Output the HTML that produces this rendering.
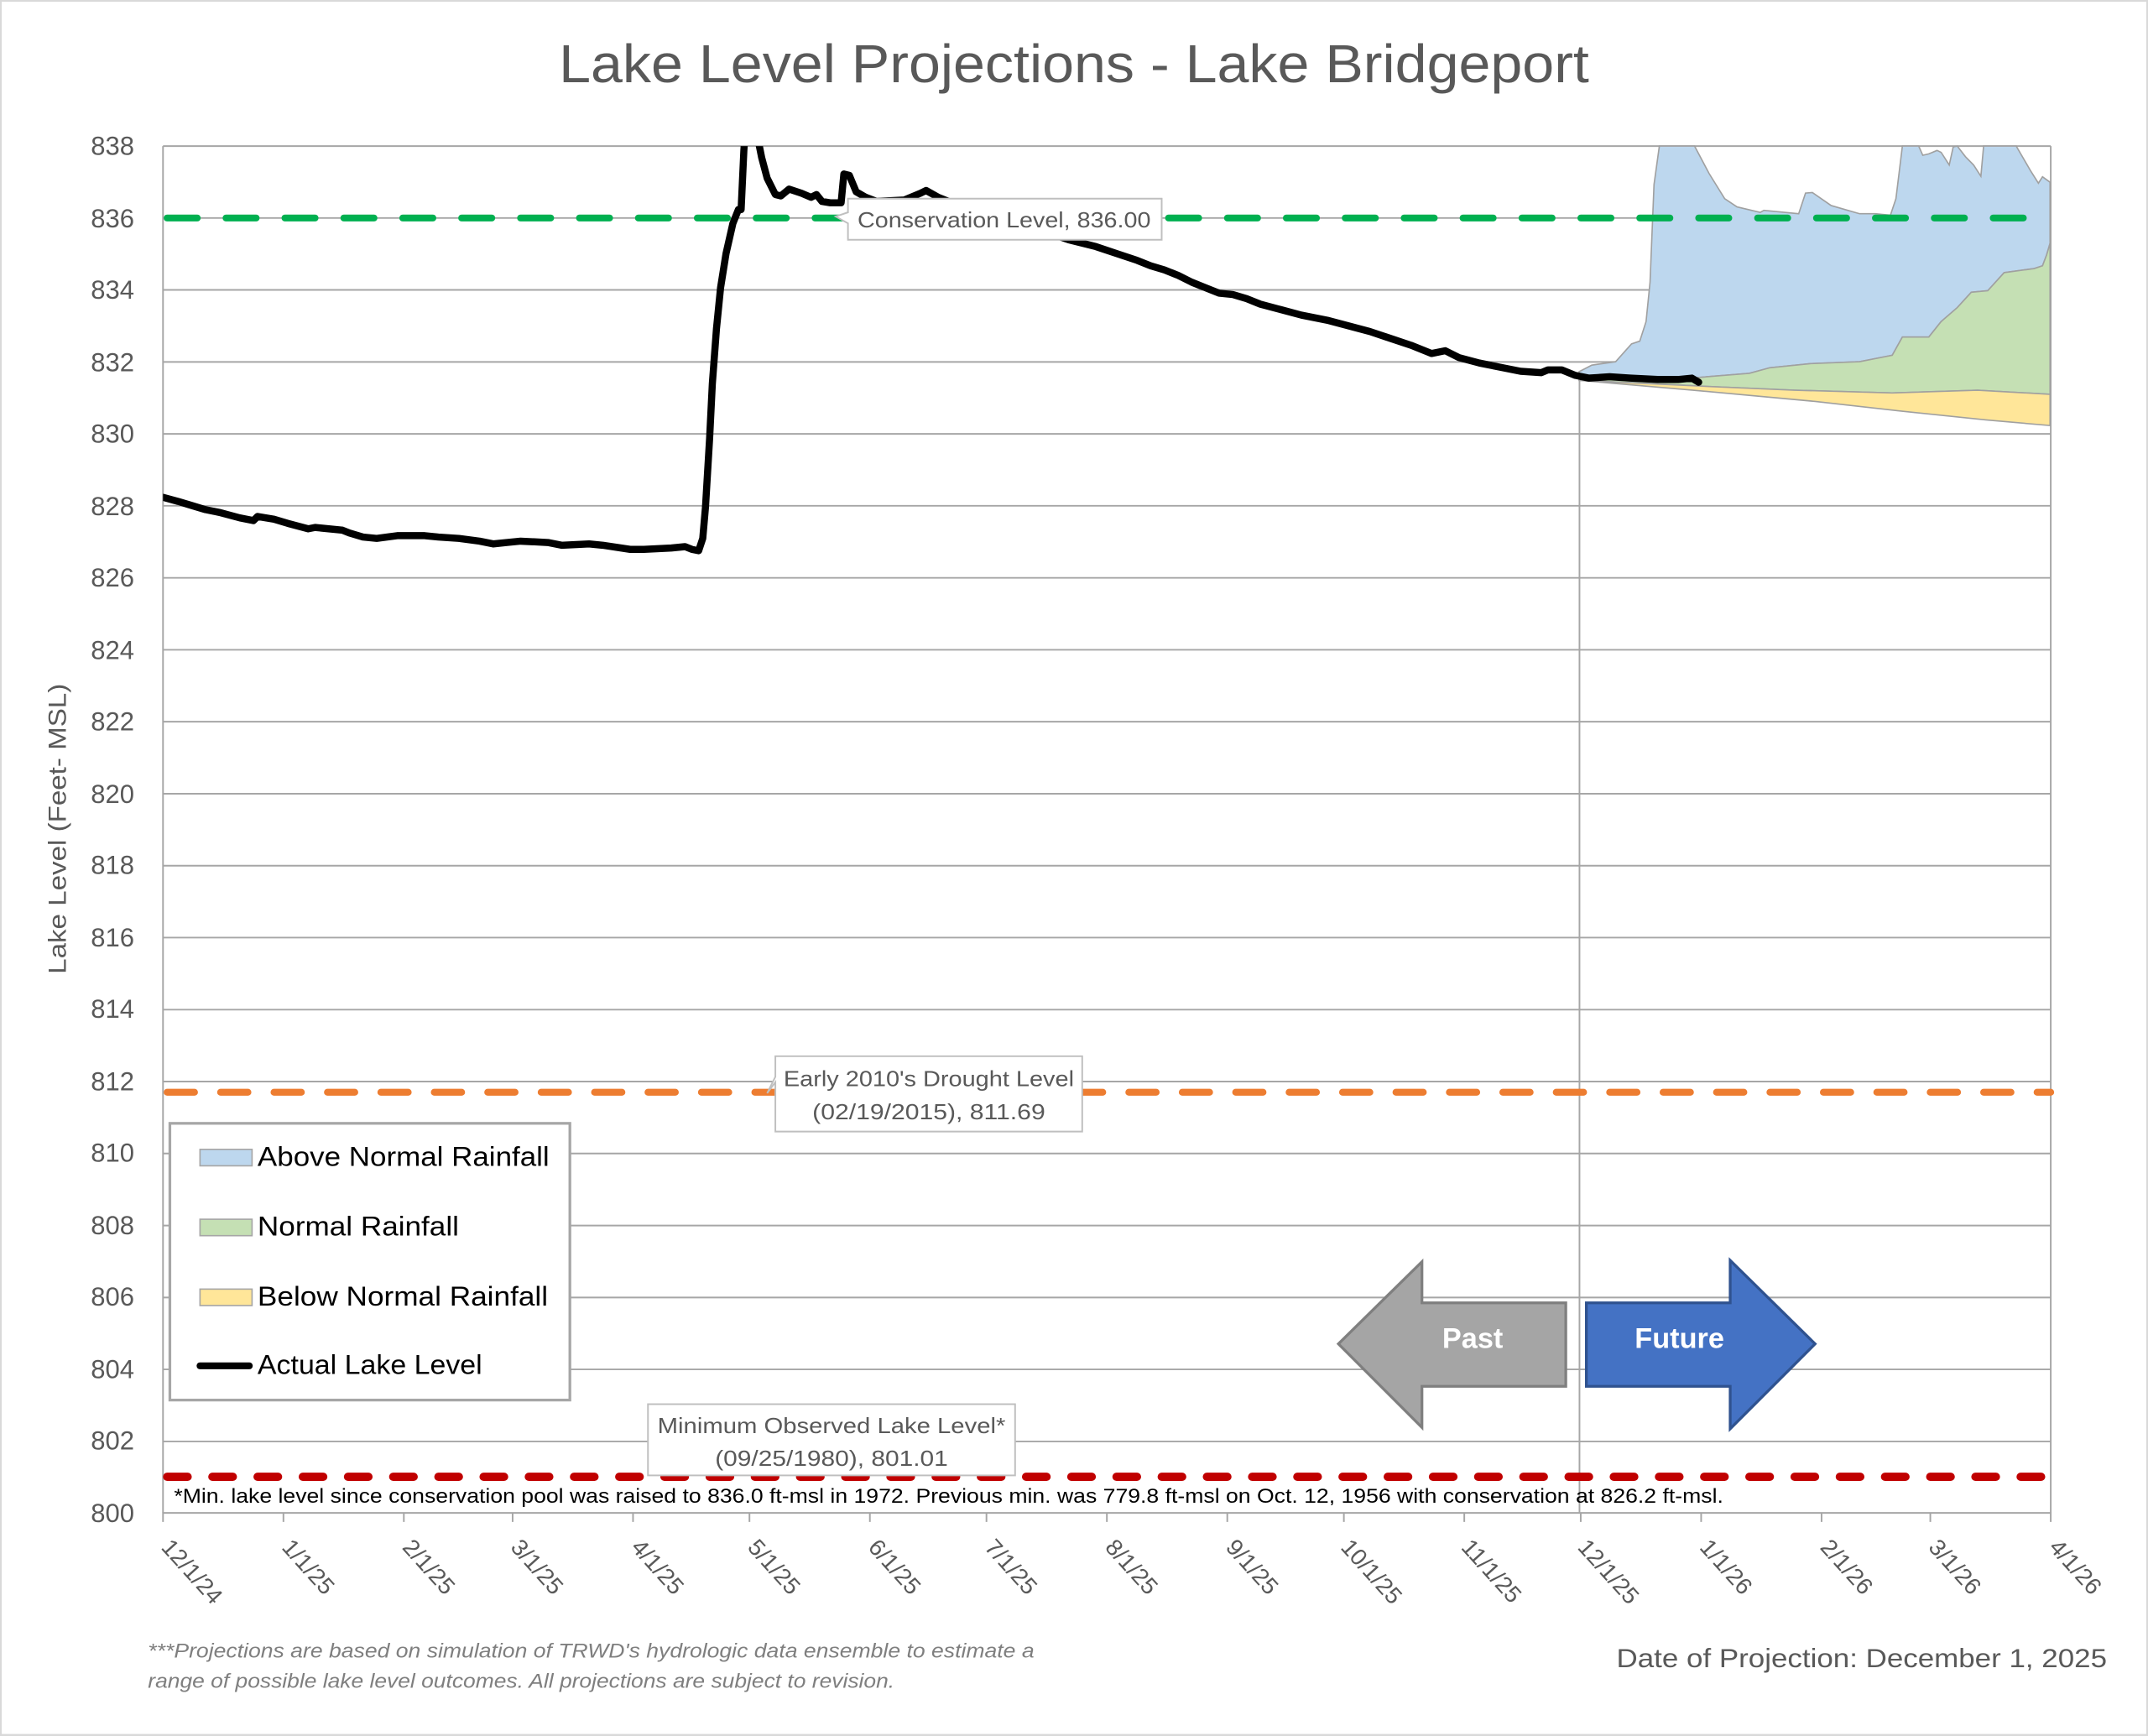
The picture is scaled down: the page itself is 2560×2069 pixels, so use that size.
<!DOCTYPE html>
<html><head><meta charset="utf-8"><style>html,body{margin:0;padding:0;background:#fff}svg{display:block}</style></head><body>
<svg width="2560" height="2069" viewBox="0 0 1568 1267.2" xmlns="http://www.w3.org/2000/svg" font-family="Liberation Sans, sans-serif">
<rect x="0.5" y="0.5" width="1567" height="1266" fill="#fff" stroke="#d9d9d9" stroke-width="1.5"/>
<text x="784" y="60" text-anchor="middle" font-size="39" fill="#595959" textLength="752" lengthAdjust="spacingAndGlyphs">Lake Level Projections - Lake Bridgeport</text>
<g stroke="#a6a6a6" stroke-width="1.2">
<line x1="119" x2="1497" y1="106.6" y2="106.6"/><line x1="119" x2="1497" y1="159.1" y2="159.1"/><line x1="119" x2="1497" y1="211.6" y2="211.6"/><line x1="119" x2="1497" y1="264.2" y2="264.2"/><line x1="119" x2="1497" y1="316.7" y2="316.7"/><line x1="119" x2="1497" y1="369.2" y2="369.2"/><line x1="119" x2="1497" y1="421.8" y2="421.8"/><line x1="119" x2="1497" y1="474.3" y2="474.3"/><line x1="119" x2="1497" y1="526.8" y2="526.8"/><line x1="119" x2="1497" y1="579.4" y2="579.4"/><line x1="119" x2="1497" y1="631.9" y2="631.9"/><line x1="119" x2="1497" y1="684.4" y2="684.4"/><line x1="119" x2="1497" y1="737.0" y2="737.0"/><line x1="119" x2="1497" y1="789.5" y2="789.5"/><line x1="119" x2="1497" y1="842.0" y2="842.0"/><line x1="119" x2="1497" y1="894.6" y2="894.6"/><line x1="119" x2="1497" y1="947.1" y2="947.1"/><line x1="119" x2="1497" y1="999.6" y2="999.6"/><line x1="119" x2="1497" y1="1052.2" y2="1052.2"/><line x1="119" x2="1497" y1="1104.4" y2="1104.4"/>
<line x1="119" x2="119" y1="106.6" y2="1104.4"/><line x1="1497" x2="1497" y1="106.6" y2="1104.4"/>
<line x1="1153" x2="1153" y1="272" y2="1104.4"/>
<path d="M119 1104v7M206.9 1104v7M294.8 1104v7M374.2 1104v7M462.1 1104v7M547.1 1104v7M635 1104v7M720.1 1104v7M808 1104v7M895.9 1104v7M981 1104v7M1068.9 1104v7M1153.9 1104v7M1241.8 1104v7M1329.7 1104v7M1409.1 1104v7M1497 1104v7"/>
</g>
<g fill="#595959" font-size="19" text-anchor="end">
<text x="98" y="113">838</text><text x="98" y="166">836</text><text x="98" y="218">834</text><text x="98" y="271">832</text><text x="98" y="323">830</text><text x="98" y="376">828</text><text x="98" y="428">826</text><text x="98" y="481">824</text><text x="98" y="533">822</text><text x="98" y="586">820</text><text x="98" y="638">818</text><text x="98" y="691">816</text><text x="98" y="743">814</text><text x="98" y="796">812</text><text x="98" y="848">810</text><text x="98" y="901">808</text><text x="98" y="953">806</text><text x="98" y="1006">804</text><text x="98" y="1058">802</text><text x="98" y="1111">800</text>
</g>
<text transform="translate(48,605) rotate(-90)" text-anchor="middle" font-size="18" fill="#595959" textLength="212" lengthAdjust="spacingAndGlyphs">Lake Level (Feet- MSL)</text>
<g fill="#595959" font-size="17">
<text transform="translate(117,1130) rotate(48)">12/1/24</text>
<text transform="translate(205,1130) rotate(48)">1/1/25</text>
<text transform="translate(293,1130) rotate(48)">2/1/25</text>
<text transform="translate(372,1130) rotate(48)">3/1/25</text>
<text transform="translate(460,1130) rotate(48)">4/1/25</text>
<text transform="translate(545,1130) rotate(48)">5/1/25</text>
<text transform="translate(633,1130) rotate(48)">6/1/25</text>
<text transform="translate(718,1130) rotate(48)">7/1/25</text>
<text transform="translate(806,1130) rotate(48)">8/1/25</text>
<text transform="translate(894,1130) rotate(48)">9/1/25</text>
<text transform="translate(978,1130) rotate(48)">10/1/25</text>
<text transform="translate(1066,1130) rotate(48)">11/1/25</text>
<text transform="translate(1151,1130) rotate(48)">12/1/25</text>
<text transform="translate(1240,1130) rotate(48)">1/1/26</text>
<text transform="translate(1328,1130) rotate(48)">2/1/26</text>
<text transform="translate(1407,1130) rotate(48)">3/1/26</text>
<text transform="translate(1495,1130) rotate(48)">4/1/26</text>
</g>
<g stroke="#a0a0a0" stroke-width="1">
<path fill="#bdd7ee" d="M1152.7,271.3 L1162,266.5 L1179.4,264 L1191,251 L1197,249 L1201.6,234.7 L1204.5,206 L1207.4,134.7 L1211.3,106.6 L1237,106.6 L1247.6,126.6 L1259,145 L1268,151 L1285,155 L1287.6,153.5 L1313,156 L1318,140.9 L1323,140.5 L1336.7,150 L1357.5,156 L1369,156 L1380,157 L1384,145 L1388.7,106.6 L1400.6,106.6 L1403.6,113.3 L1408,112.3 L1414,109.8 L1417,111.2 L1422.9,120.4 L1425.8,107.2 L1428.8,106.6 L1434.7,114.3 L1440.7,120.4 L1446,128.6 L1448,106.6 L1471.8,106.6 L1482.2,124.5 L1488,133.7 L1491,129 L1496.5,133 L1496.5,177.6 L1494,186 L1491,194 L1485,196 L1463,199 L1451,212.2 L1439,213.3 L1428.8,224.5 L1417,234.7 L1408,246 L1388.7,246 L1381.3,259.3 L1357.5,264 L1322,265.4 L1292,268.4 L1277,272.5 L1238.8,275.6 L1152.7,277.6 Z"/>
<path fill="#c5e0b4" d="M1152.7,277.6 L1238.8,275.6 L1277,272.5 L1292,268.4 L1322,265.4 L1357.5,264 L1381.3,259.3 L1388.7,246 L1408,246 L1417,234.7 L1428.8,224.5 L1439,213.3 L1451,212.2 L1463,199 L1485,196 L1491,194 L1494,186 L1496.5,177.6 L1496.5,287.8 L1443.6,284.8 L1381.3,286.8 L1310,284.8 L1238.8,281.7 Z"/>
<path fill="#ffe699" d="M1152.7,277.6 L1238.8,281.7 L1310,284.8 L1381.3,286.8 L1443.6,284.8 L1496.5,287.8 L1496.5,310.6 L1449.6,306.5 L1387,300 L1325,293 L1235.9,284.8 Z"/>
</g>
<line x1="122" x2="1497" y1="159.1" y2="159.1" stroke="#00b050" stroke-width="5" stroke-dasharray="22 21" stroke-linecap="round"/>
<line x1="122" x2="1497" y1="797.3" y2="797.3" stroke="#ed7d31" stroke-width="5" stroke-dasharray="20 19" stroke-linecap="round"/>
<line x1="122" x2="1497" y1="1078" y2="1078" stroke="#c00000" stroke-width="6" stroke-dasharray="15 18" stroke-linecap="round"/>
<clipPath id="c"><rect x="119" y="106.6" width="1378" height="998"/></clipPath>
<polyline clip-path="url(#c)" fill="none" stroke="#000" stroke-width="5.2" stroke-linejoin="round" stroke-linecap="round" points="119,363 130,366 140,369 150,372 160,374 175,378 185,380 188,377 200,379 210,382 225,386 230,385 250,387 255,389 265,392 275,393 290,391 310,391 320,392 335,393 350,395 360,397 370,396 380,395 400,396 410,398 430,397 440,398 460,401 470,401 490,400 500,399 505,401 510,402 513,393 515,370 518,320 520,280 523,240 526,210 530,185 535,163 539,153 541,153 543,110 544,95 552,95 556,115 560,130 566,142 570,143 576,138 585,141 592,144 596,142 600,147 606,148 614,148 616,127 620,128 625,140 632,144 640,147 660,146 672,141 676,139 685,144 700,150 720,157 740,163 760,168 780,175 800,180 815,185 830,190 840,194 850,197 860,201 870,206 880,210 890,214 900,215 910,218 920,222 935,226 950,230 970,234 985,238 1000,242 1015,247 1030,252 1045,258 1055,256 1065,261 1080,265 1095,268 1110,271 1125,272 1130,270 1140,270 1150,274 1160,276 1175,275 1190,276 1210,277 1225,277 1235,276 1240,279"/>
<g fill="#fff" stroke="#bfbfbf" stroke-width="1.2">
<path d="M619,145 H848 V175 H619 V163 L610,158 L619,155 Z"/>
<path d="M566,771 H790 V826 H566 V790 L560,798 L566,786 Z"/>
<rect x="473" y="1025" width="268" height="52"/>
</g>
<g fill="#595959" font-size="16" text-anchor="middle">
<text x="733" y="166" textLength="214" lengthAdjust="spacingAndGlyphs">Conservation Level, 836.00</text>
<text x="678" y="793" textLength="212" lengthAdjust="spacingAndGlyphs">Early 2010's Drought Level</text>
<text x="678" y="817" textLength="170" lengthAdjust="spacingAndGlyphs">(02/19/2015), 811.69</text>
<text x="607" y="1046" textLength="254" lengthAdjust="spacingAndGlyphs">Minimum Observed Lake Level*</text>
<text x="607" y="1070" textLength="170" lengthAdjust="spacingAndGlyphs">(09/25/1980), 801.01</text>
</g>
<text x="127" y="1097" font-size="15" fill="#000" textLength="1131" lengthAdjust="spacingAndGlyphs">*Min. lake level since conservation pool was raised to 836.0 ft-msl in 1972.  Previous min. was 779.8 ft-msl on Oct. 12, 1956 with conservation at 826.2 ft-msl.</text>
<rect x="124" y="820" width="292" height="202" fill="#fff" stroke="#a6a6a6" stroke-width="2"/>
<rect x="146" y="839" width="38" height="12" fill="#bdd7ee" stroke="#a6a6a6"/>
<rect x="146" y="890" width="38" height="12" fill="#c5e0b4" stroke="#a6a6a6"/>
<rect x="146" y="941" width="38" height="12" fill="#ffe699" stroke="#a6a6a6"/>
<line x1="146" x2="182" y1="997" y2="997" stroke="#000" stroke-width="5" stroke-linecap="round"/>
<g font-size="20" fill="#000">
<text x="188" y="851" textLength="213" lengthAdjust="spacingAndGlyphs">Above Normal Rainfall</text>
<text x="188" y="902" textLength="147" lengthAdjust="spacingAndGlyphs">Normal Rainfall</text>
<text x="188" y="953" textLength="212" lengthAdjust="spacingAndGlyphs">Below Normal Rainfall</text>
<text x="188" y="1003" textLength="164" lengthAdjust="spacingAndGlyphs">Actual Lake Level</text>
</g>
<path d="M977,981 L1038,921 V951 H1143 V1012 H1038 V1042 Z" fill="#a5a5a5" stroke="#7f7f7f" stroke-width="2"/>
<path d="M1325,981 L1263,920 V951 H1158 V1012 H1263 V1043 Z" fill="#4472c4" stroke="#2f528f" stroke-width="2"/>
<text x="1075" y="984" text-anchor="middle" font-size="21" font-weight="bold" fill="#fff">Past</text>
<text x="1226" y="984" text-anchor="middle" font-size="21" font-weight="bold" fill="#fff">Future</text>
<g font-size="15" font-style="italic" fill="#7f7f7f">
<text x="108" y="1210" textLength="647" lengthAdjust="spacingAndGlyphs">***Projections are based on simulation of TRWD's hydrologic data ensemble to estimate a</text>
<text x="108" y="1232" textLength="545" lengthAdjust="spacingAndGlyphs">range of possible lake level outcomes.  All projections are subject to revision.</text>
</g>
<text x="1538" y="1217" text-anchor="end" font-size="19" fill="#595959" textLength="358" lengthAdjust="spacingAndGlyphs">Date of Projection: December 1, 2025</text>
</svg>
</body></html>
